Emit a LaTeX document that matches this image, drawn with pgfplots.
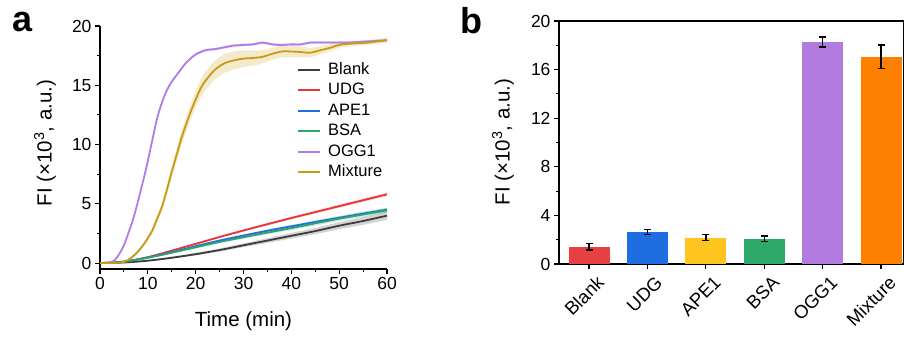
\documentclass[border=0pt]{standalone}
\usepackage{pgfplots}
\pgfplotsset{compat=1.18}
\usepackage{pgfplotstable}
\usepgfplotslibrary{fillbetween}
\usepackage{fontspec}
\setmainfont{Liberation Sans}

\definecolor{cgray}{RGB}{60,60,60}
\definecolor{cred}{RGB}{232,53,59}
\definecolor{cblue}{RGB}{31,111,224}
\definecolor{cgreen}{RGB}{43,165,107}
\definecolor{cpurple}{RGB}{176,124,232}
\definecolor{cgold}{RGB}{200,155,20}
\definecolor{bred}{RGB}{232,64,64}
\definecolor{bblue}{RGB}{30,110,225}
\definecolor{byellow}{RGB}{255,196,30}
\definecolor{bgreen}{RGB}{46,168,104}
\definecolor{bpurple}{RGB}{176,122,222}
\definecolor{borange}{RGB}{255,127,0}

% time, mean, error (x10^3 a.u.)
\pgfplotstableread{
t y e
0 0 0.02
5 0.05 0.03
10 0.2 0.05
15 0.45 0.08
20 0.75 0.1
25 1.1 0.13
30 1.5 0.16
35 1.9 0.2
40 2.3 0.24
45 2.7 0.27
50 3.15 0.3
55 3.55 0.33
60 4.0 0.36
}\blank
\pgfplotstableread{
t y e
0 0 0.02
5 0.12 0.03
10 0.5 0.05
15 1.05 0.06
20 1.62 0.08
25 2.2 0.09
30 2.75 0.1
35 3.28 0.11
40 3.8 0.12
45 4.3 0.13
50 4.8 0.14
55 5.3 0.15
60 5.8 0.16
}\udg
\pgfplotstableread{
t y e
0 0 0.02
5 0.12 0.03
10 0.47 0.05
15 0.92 0.06
20 1.42 0.08
25 1.9 0.09
30 2.32 0.1
35 2.73 0.11
40 3.1 0.12
45 3.47 0.13
50 3.82 0.14
55 4.17 0.15
60 4.5 0.16
}\apeone
\pgfplotstableread{
t y e
0 0 0.02
5 0.12 0.03
10 0.45 0.05
15 0.87 0.07
20 1.33 0.09
25 1.78 0.1
30 2.18 0.12
35 2.57 0.14
40 2.95 0.16
45 3.35 0.18
50 3.75 0.2
55 4.1 0.21
60 4.45 0.22
}\bsa
\pgfplotstableread{
t y e
0 0 0.05
1 0 0.05
2 0.05 0.05
3 0.22 0.08
4 0.75 0.1
5 1.5 0.12
6 2.6 0.12
7 3.8 0.12
8 5.3 0.12
9 6.9 0.12
10 8.6 0.12
11 10.5 0.12
12 12.3 0.12
13 13.6 0.12
14 14.6 0.12
15 15.3 0.12
16 15.85 0.12
18 16.9 0.12
20 17.6 0.12
22 17.95 0.12
24 18.05 0.12
26 18.2 0.12
28 18.35 0.12
30 18.4 0.12
32 18.45 0.12
34 18.6 0.12
36 18.45 0.12
38 18.4 0.12
40 18.45 0.12
42 18.45 0.12
44 18.6 0.12
46 18.6 0.12
48 18.6 0.12
50 18.6 0.12
52 18.6 0.12
54 18.65 0.12
56 18.7 0.12
58 18.75 0.12
60 18.8 0.12
}\ogg
\pgfplotstableread{
t y e
0 0 0.05
2 0 0.05
4 0.03 0.05
5 0.1 0.08
6 0.3 0.1
7 0.6 0.12
8 1.0 0.15
9 1.5 0.18
10 2.1 0.2
11 2.8 0.25
12 3.8 0.3
13 4.8 0.35
14 6.2 0.45
15 7.7 0.5
16 9.1 0.55
17 10.5 0.6
18 11.7 0.6
19 12.8 0.65
20 13.8 0.7
21 14.7 0.75
22 15.35 0.8
24 16.3 0.8
26 16.85 0.8
28 17.1 0.75
30 17.25 0.7
32 17.3 0.65
34 17.4 0.55
36 17.65 0.5
38 17.85 0.5
40 17.85 0.5
42 17.8 0.45
44 17.75 0.4
46 17.95 0.35
48 18.15 0.3
50 18.4 0.25
52 18.5 0.2
54 18.55 0.2
56 18.6 0.2
58 18.7 0.2
60 18.8 0.2
}\mix

\pgfplotsset{
  myax/.style={
    scale only axis,
    tick align=outside,
    major tick length=5pt,
    minor tick length=3pt,
    every tick/.style={line width=1.1pt, black},
    axis line style={line width=1.3pt},
    /pgf/number format/assume math mode=true,
    tick label style={font=\fontsize{17.5}{20}\selectfont},
    label style={font=\fontsize{20.5}{24}\selectfont},
  }
}

\newcommand{\band}[3]{%
  \addplot[draw=none, forget plot, name path=#2U] table[x=t, y expr=\thisrow{y}+\thisrow{e}] {#1};
  \addplot[draw=none, forget plot, name path=#2L] table[x=t, y expr=\thisrow{y}-\thisrow{e}] {#1};
  \addplot[fill=#3, fill opacity=0.22, draw=none, forget plot] fill between[of=#2U and #2L];
}

\begin{document}
\begin{tikzpicture}

\node[font=\fontsize{36}{40}\selectfont\bfseries, inner sep=0pt] at (23pt,315pt) {a};
\node[font=\fontsize{36}{40}\selectfont\bfseries, inner sep=0pt] at (471pt,316pt) {b};

\begin{axis}[myax,
  at={(100pt,68pt)}, anchor=south west,
  width=287pt, height=243pt,
  xmin=0, xmax=60, ymin=-0.5, ymax=20,
  axis x line*=bottom, axis y line*=left,
  xtick={0,10,...,60}, ytick={0,5,...,20},
  minor x tick num=1, minor y tick num=1,
  xlabel={Time (min)}, ylabel={FI (×10\textsuperscript{3}, a.u.)},
  xlabel style={at={(axis description cs:0.5,-0.214)}, anchor=center},
  ylabel style={at={(axis description cs:-0.192,0.518)}, anchor=center},
  legend style={draw=none, fill=none, at={(axis description cs:0.676,0.865)}, anchor=north west,
    font=\fontsize{16.5}{19}\selectfont, row sep=3pt,
    nodes={inner sep=1pt, text height=12pt, text depth=3.5pt},
    /tikz/every odd column/.append style={column sep=6pt}},
  legend cell align=left,
  legend image code/.code={\draw[#1, line width=2pt] (0pt,0pt) -- (22pt,0pt);},
  every axis plot/.append style={line width=1.8pt},
]
\band{\blank}{bk}{cgray}
\band{\udg}{ud}{cred}
\band{\apeone}{ap}{cblue}
\band{\bsa}{bs}{cgreen}
\band{\ogg}{og}{cpurple}
\band{\mix}{mx}{cgold}
\addplot[cgray, smooth] table[x=t,y=y] {\blank};
\addlegendentry{Blank}
\addplot[cred, smooth] table[x=t,y=y] {\udg};
\addlegendentry{UDG}
\addplot[cblue, smooth] table[x=t,y=y] {\apeone};
\addlegendentry{APE1}
\addplot[cgreen, smooth] table[x=t,y=y] {\bsa};
\addlegendentry{BSA}
\addplot[cpurple, smooth] table[x=t,y=y] {\ogg};
\addlegendentry{OGG1}
\addplot[cgold, smooth] table[x=t,y=y] {\mix};
\addlegendentry{Mixture}
\end{axis}

\begin{axis}[myax,
  at={(559pt,73pt)}, anchor=south west,
  width=344.5pt, height=243pt,
  xmin=-0.514, xmax=5.385, ymin=0, ymax=20,
  xtick pos=bottom, ytick pos=left,
  xtick={0,1,2,3,4,5},
  xticklabels={Blank,UDG,APE1,BSA,OGG1,Mixture},
  xticklabel style={xshift=14pt, yshift=-8pt, rotate=45, anchor=east, font=\fontsize{18.5}{21}\selectfont},
  ytick={0,4,...,20}, minor y tick num=1,
  ylabel={FI (×10\textsuperscript{3}, a.u.)},
  ylabel style={at={(axis description cs:-0.1626,0.502)}, anchor=center},
  ybar, bar width=41pt, bar shift=0pt,
  error bars/error bar style={line width=1.4pt, black},
  error bars/error mark options={rotate=90, mark size=3.5pt, line width=1.4pt, black},
]
\addplot[fill=bred, draw=none, error bars/.cd, y dir=both, y explicit] coordinates {(0,1.43) +- (0,0.27)};
\addplot[fill=bblue, draw=none, error bars/.cd, y dir=both, y explicit] coordinates {(1,2.62) +- (0,0.2)};
\addplot[fill=byellow, draw=none, error bars/.cd, y dir=both, y explicit] coordinates {(2,2.18) +- (0,0.26)};
\addplot[fill=bgreen, draw=none, error bars/.cd, y dir=both, y explicit] coordinates {(3,2.07) +- (0,0.23)};
\addplot[fill=bpurple, draw=none, error bars/.cd, y dir=both, y explicit] coordinates {(4,18.28) +- (0,0.41)};
\addplot[fill=borange, draw=none, error bars/.cd, y dir=both, y explicit] coordinates {(5,17.05) +- (0,0.96)};
\end{axis}

\pgfresetboundingbox
\useasboundingbox (0,0) rectangle (904pt,337pt);
\end{tikzpicture}
\end{document}
